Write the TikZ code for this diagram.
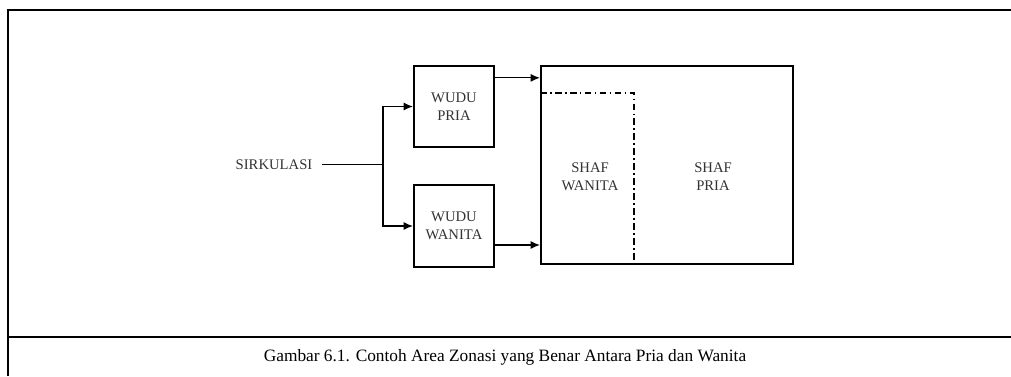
\documentclass[tikz,border=0pt]{standalone}
\usepackage{fontspec}
\setmainfont{Liberation Serif}
\usetikzlibrary{arrows.meta}
\tikzset{
  ruang/.style={draw,line width=1.5pt,inner sep=0pt,align=center,
    font=\fontsize{11}{13.5}\selectfont,text=black!80},
  label/.style={align=center,font=\fontsize{11}{13.5}\selectfont,text=black!80},
  arrow/.style={-{Latex[length=7pt,width=6pt]},line width=0.9pt},
  sekat/.style={line width=1.2pt,dash pattern=on 5pt off 2.5pt on 1.2pt off 2.5pt},
  frame/.style={line width=1.5pt}
}
\begin{document}
\begin{tikzpicture}[x=0.75pt,y=-0.75pt]
  \useasboundingbox (0,0) rectangle (1011,376);
  % table frame
  \draw[frame] (7.5,376) -- (7.5,10) -- (1011,10);
  \draw[frame] (7.5,337) -- (1011,337);

  \node[label,inner xsep=7pt] (sirk) at (274,164.5) {SIRKULASI};
  \node[ruang,minimum width=60pt,minimum height=61pt] (wpria) at (454,106.5)
    {WUDU\\PRIA};
  \node[ruang,minimum width=60pt,minimum height=61.5pt] (wwanita) at (454,226)
    {WUDU\\WANITA};
  \node[ruang,minimum width=189pt,minimum height=148.5pt] (masjid) at (667,165) {};
  \node[label] (swanita) at (590,177) {SHAF\\WANITA};
  \node[label] (spria) at (713,177) {SHAF\\PRIA};

  \coordinate (cab) at (383,165);
  \coordinate (keluarp) at ([yshift=-9.75pt]wpria.north east);
  \coordinate (keluarw) at ([yshift=17.25pt]wwanita.south east);
  \coordinate (sudut) at ([xshift=70.5pt,yshift=-21pt]masjid.north west);

  \draw[line width=0.9pt] (sirk.east) -- (sirk.east -| cab);
  \draw[arrow] (cab) |- (wpria.west);
  \draw[arrow] (cab) |- (wwanita.west);
  \draw[arrow] (keluarp) -- (keluarp -| masjid.west);
  \draw[arrow] (keluarw) -- (keluarw -| masjid.west);
  \draw[sekat] (sudut -| masjid.west) -- (sudut) -- (sudut |- masjid.south);

  \node[font=\fontsize{13}{15}\selectfont] (judul) at (505,357)
    {Gambar 6.1. Contoh Area Zonasi yang Benar Antara Pria dan Wanita};
\end{tikzpicture}
\end{document}
